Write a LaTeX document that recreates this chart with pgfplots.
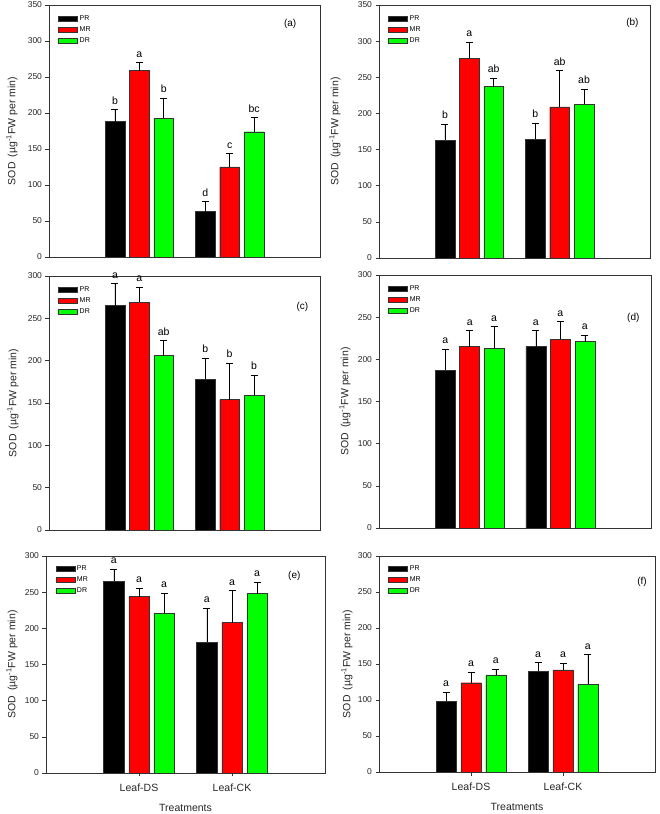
\documentclass[border=0pt]{standalone}
\usepackage{fontspec}
\setmainfont{Liberation Sans}
\usepackage{pgfplots}
\usepackage{pgfplotstable}
\pgfplotsset{compat=1.18}

\definecolor{barred}{RGB}{255,0,0}
\definecolor{bargreen}{RGB}{0,255,0}

% one table per panel: value, error, letter for PR / MR / DR
\pgfplotstableread{
x pr pre prl mr mre mrl dr dre drl
1 188 17 b 259 11 a 193 28 b
2 63 14 d 125 19 c 174 20 bc
}\tabA
\pgfplotstableread{
x pr pre prl mr mre mrl dr dre drl
1 163 22 b 276 23 a 237 12 ab
2 164 23 b 209 50 ab 213 21 ab
}\tabB
\pgfplotstableread{
x pr pre prl mr mre mrl dr dre drl
1 265 26 a 269 18 a 206 18 ab
2 178 25 b 154 43 b 159 24 b
}\tabC
\pgfplotstableread{
x pr pre prl mr mre mrl dr dre drl
1 187 25 a 215 19 a 213 26 a
2 215 19 a 224 21 a 221 8 a
}\tabD
\pgfplotstableread{
x pr pre prl mr mre mrl dr dre drl
1 265 17 a 244 12 a 221 28 a
2 181 47 a 208 44 a 248 16 a
}\tabE
\pgfplotstableread{
x pr pre prl mr mre mrl dr dre drl
1 98 13 a 124 15 a 135 8 a
2 140 12 a 142 9 a 122 41 a
}\tabF

\pgfplotsset{
  sod/.style={
    scale only axis,
    anchor=south west,
    ybar, bar width=0.22,
    xmin=0, xmax=3, ymin=0,
    tick pos=left, tick align=outside,
    major tick length=3.5pt,
    axis line style={black!80, line width=0.6pt},
    tick style={black!80, line width=0.6pt},
    ticklabel style={font=\fontsize{8.5}{9}\selectfont, text=black!85},
    /pgf/number format/assume math mode=true,
    ylabel={SOD\enspace(µg\textsuperscript{-1}FW per min)},
    ylabel style={font=\fontsize{10.5}{12}\selectfont, text=black!85},
    legend style={at={(0.03,0.97)}, anchor=north west, draw=none, fill=none,
      font=\fontsize{7}{8}\selectfont, row sep=0.6pt, inner sep=1pt},
    legend cell align=left,
    legend image code/.code={\draw[##1, draw=black!80] (0pt,-2.7pt) rectangle (19pt,2.7pt);},
    error bars/y dir=plus, error bars/y explicit,
    error bars/error bar style={black, line width=0.6pt},
    error bars/error mark options={rotate=90, mark size=3.5pt, black, line width=0.6pt},
  },
  lettr/.style={forget plot, draw=none, fill=none, bar shift=0, nodes near coords,
    point meta=explicit symbolic,
    every node near coord/.style={font=\fontsize{10.5}{11}\selectfont, anchor=south, inner sep=1pt, yshift=4pt}},
  bottomlabels/.style={xtick={1,2}, xticklabels={Leaf-DS, Leaf-CK},
    xticklabel style={font=\fontsize{10.5}{12}\selectfont, text=black!85, yshift=-4pt},
    xlabel={Treatments},
    xlabel style={font=\fontsize{10.5}{12}\selectfont, text=black!85, yshift=-6pt}},
}

\newcommand\ylab[1]{\pgfplotsset{every axis y label/.style={at={([xshift=-#1]axis description cs:0,0.5)}, rotate=90, anchor=center}}}

\newcommand\bars[1]{%
  \addplot[fill=black, draw=black!80, bar shift=-0.27] table[x=x, y=pr, y error=pre] {#1};
  \addplot[fill=barred, draw=black!80, bar shift=0] table[x=x, y=mr, y error=mre] {#1};
  \addplot[fill=bargreen, draw=black!80, bar shift=0.27] table[x=x, y=dr, y error=dre] {#1};
  \legend{PR, MR, DR}
  \addplot[lettr] table[x expr=\thisrow{x}-0.27, y expr=\thisrow{pr}+\thisrow{pre}, meta=prl] {#1};
  \addplot[lettr] table[x=x, y expr=\thisrow{mr}+\thisrow{mre}, meta=mrl] {#1};
  \addplot[lettr] table[x expr=\thisrow{x}+0.27, y expr=\thisrow{dr}+\thisrow{dre}, meta=drl] {#1};
}

\newcommand\plab[3]{\node[font=\fontsize{10}{11}\selectfont] at (rel axis cs:#1,#2) {#3};}

\begin{document}
\begin{tikzpicture}
\path[use as bounding box] (0,0) rectangle (659pt,814pt);

% (a)
\begin{axis}[sod, at={(49pt,557pt)}, width=271pt, height=252pt,
  ymax=350, ytick={0,50,...,350}, xtick=\empty]
  \ylab{37pt}
  \bars{\tabA}
  \plab{0.89}{0.925}{(a)}
\end{axis}

% (b)
\begin{axis}[sod, at={(379pt,556pt)}, width=271pt, height=253pt,
  ymax=350, ytick={0,50,...,350}, xtick=\empty]
  \ylab{44pt}
  \bars{\tabB}
  \plab{0.935}{0.93}{(b)}
\end{axis}

% (c)
\begin{axis}[sod, at={(49pt,284pt)}, width=271pt, height=254pt,
  ymax=300, ytick={0,50,...,300}, xtick=\empty]
  \ylab{36pt}
  \bars{\tabC}
  \plab{0.935}{0.88}{(c)}
\end{axis}

% (d)
\begin{axis}[sod, at={(379pt,286pt)}, width=272pt, height=253pt,
  ymax=300, ytick={0,50,...,300}, xtick=\empty]
  \ylab{34pt}
  \bars{\tabD}
  \plab{0.935}{0.83}{(d)}
\end{axis}

% (e)
\begin{axis}[sod, at={(46pt,41pt)}, width=279pt, height=217pt,
  ymax=300, ytick={0,50,...,300}, bottomlabels]
  \ylab{34pt}
  \bars{\tabE}
  \plab{0.89}{0.91}{(e)}
\end{axis}

% (f)
\begin{axis}[sod, at={(379pt,42pt)}, width=276pt, height=216pt,
  ymax=300, ytick={0,50,...,300}, bottomlabels]
  \ylab{32pt}
  \bars{\tabF}
  \plab{0.953}{0.88}{(f)}
\end{axis}
\end{tikzpicture}
\end{document}
